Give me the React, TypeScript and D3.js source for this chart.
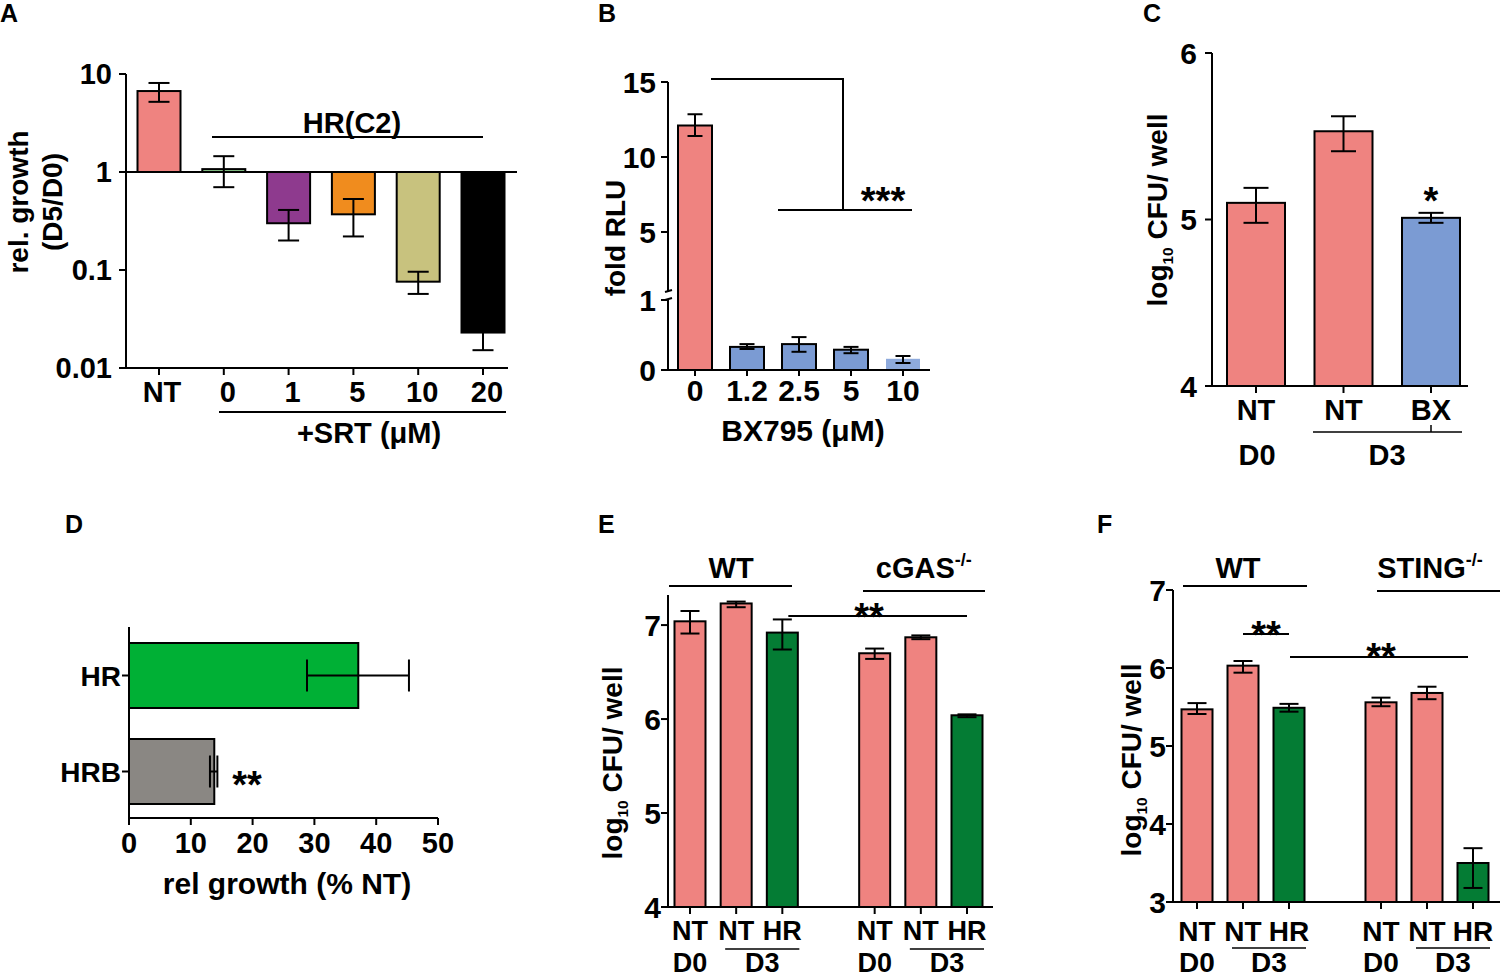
import React, { useEffect, useRef } from "react";
import * as d3 from "d3";

// ---- data ----
// A: rel. growth (D5/D0), log scale, bars drawn from 1
const aCats = ["NT", "0", "1", "5", "10", "20"];
const aVals = [6.7, 1.07, 0.3, 0.37, 0.076, 0.023];
const aHi = [8.1, 1.45, 0.41, 0.53, 0.096, 0.034];
const aLo = [5.2, 0.7, 0.2, 0.22, 0.057, 0.0152];
const aColors = ["#ef8380", "#8fd08f", "#8e3a8e", "#f08c1e", "#c8c27e", "#000000"];
const aTicks = [10, 1, 0.1, 0.01];
const aTickLabels = ["10", "1", "0.1", "0.01"];

// B: fold RLU vs BX795 dose
const bCats = ["0", "1.2", "2.5", "5", "10"];
const bVals = [12.1, 0.33, 0.37, 0.29, 0.16];
const bHi = [12.85, 0.37, 0.47, 0.33, 0.2];
const bLo = [11.4, 0.3, 0.26, 0.24, 0.1];
const bColors = ["#ef8380", "#7b9bd3", "#7b9bd3", "#7b9bd3", "#8eaadc"];
const bUpperTicks = [15, 10, 5];
const bLowerTicks = [1, 0];

// C: log10 CFU/well
const cCats = ["NT", "NT ", "BX"];
const cVals = [5.1, 5.53, 5.01];
const cHi = [5.19, 5.62, 5.04];
const cLo = [4.98, 5.41, 4.98];
const cColors = ["#ef8380", "#ef8380", "#7b9bd3"];
const cTicks = [4, 5, 6];

// D: rel growth (% NT)
const dCats = ["HR", "HRB"];
const dVals = [37.1, 13.8];
const dHi = [45.3, 14.3];
const dLo = [28.8, 13.1];
const dColors = ["#00b035", "#8a8783"];
const dTicks = [0, 10, 20, 30, 40, 50];

// E / F: WT vs knockout, log10 CFU/well
const efSlots = ["wt-d0", "wt-nt", "wt-hr", "gap", "ko-d0", "ko-nt", "ko-hr"];
const efBars = ["wt-d0", "wt-nt", "wt-hr", "ko-d0", "ko-nt", "ko-hr"];
const efLabels = ["NT", "NT", "HR", "NT", "NT", "HR"];
const efColors = ["#ef8380", "#ef8380", "#047c34", "#ef8380", "#ef8380", "#047c34"];

const eVals = [7.04, 7.23, 6.92, 6.7, 6.87, 6.04];
const eHi = [7.15, 7.25, 7.06, 6.75, 6.89, 6.05];
const eLo = [6.91, 7.19, 6.74, 6.64, 6.85, 6.02];
const eTicks = [4, 5, 6, 7];

const fVals = [5.47, 6.03, 5.49, 5.56, 5.68, 3.5];
const fHi = [5.55, 6.09, 5.54, 5.62, 5.76, 3.69];
const fLo = [5.41, 5.94, 5.44, 5.51, 5.6, 3.18];
const fTicks = [3, 4, 5, 6, 7];

const FONT = "'Liberation Sans', Arial, Helvetica, sans-serif";
const SW = 2;
const STAR = 38;

const App = () => {
  const ref = useRef<SVGSVGElement>(null);

  useEffect(() => {
    const svg = d3.select(ref.current);
    svg.selectAll("*").remove();

    const line = (g: any, x1: number, y1: number, x2: number, y2: number, w = SW) =>
      g.append("line")
        .attr("x1", x1).attr("y1", y1).attr("x2", x2).attr("y2", y2)
        .attr("stroke", "#000").attr("stroke-width", w);

    // text centred on (x, y) by cap height
    const text = (g: any, x: number, y: number, s: string, size: number, anchor = "middle", rot = 0) => {
      const t = g.append("text")
        .attr("font-family", FONT).attr("font-weight", "bold")
        .attr("font-size", size).attr("text-anchor", anchor)
        .attr("fill", "#000");
      if (rot) {
        t.attr("transform", `translate(${x},${y}) rotate(${rot})`)
          .attr("x", 0).attr("y", size * 0.36);
      } else {
        t.attr("x", x).attr("y", y + size * 0.36);
      }
      t.text(s);
      return t;
    };

    // asterisks placed by their baseline
    const stars = (g: any, x: number, baseline: number, s: string) =>
      g.append("text").attr("font-family", FONT).attr("font-weight", "bold")
        .attr("font-size", STAR).attr("text-anchor", "middle")
        .attr("x", x).attr("y", baseline).text(s);

    const vErr = (g: any, x: number, y1: number, y2: number, cap: number) => {
      line(g, x, y1, x, y2);
      line(g, x - cap / 2, y1, x + cap / 2, y1);
      line(g, x - cap / 2, y2, x + cap / 2, y2);
    };

    const logLabel = (g: any, x: number, y: number, size: number) => {
      const t = g.append("text")
        .attr("font-family", FONT).attr("font-weight", "bold")
        .attr("font-size", size).attr("text-anchor", "middle")
        .attr("transform", `translate(${x},${y}) rotate(-90)`)
        .attr("y", size * 0.36);
      t.append("tspan").text("log");
      t.append("tspan").attr("font-size", size * 0.55).attr("dy", size * 0.2).text("10");
      t.append("tspan").attr("dy", -size * 0.2).text(" CFU/ well");
    };

    const panelLetter = (x: number, y: number, s: string) => text(svg, x, y, s, 25, "start");

    // ================= A =================
    {
      const g = svg.append("g");
      const y = d3.scaleLog().domain([0.01, 10]).range([368, 74]);
      const x = d3.scalePoint().domain(aCats).range([159, 483]);
      const bw = 43;
      aCats.forEach((c, i) => {
        const y0 = y(1), y1 = y(aVals[i]);
        g.append("rect")
          .attr("x", x(c)! - bw / 2).attr("width", bw)
          .attr("y", Math.min(y0, y1)).attr("height", Math.abs(y1 - y0))
          .attr("fill", aColors[i]).attr("stroke", "#000").attr("stroke-width", SW);
      });
      aCats.forEach((c, i) => vErr(g, x(c)!, y(aHi[i]), y(aLo[i]), 21));
      line(g, 126, y(1), 517, y(1));
      line(g, 126, 74, 126, 369);
      line(g, 125, 368, 508, 368);
      aTicks.forEach((t, i) => {
        line(g, 119, y(t), 126, y(t));
        text(g, 112, y(t), aTickLabels[i], 29, "end");
      });
      aCats.forEach((c) => {
        line(g, x(c)!, 368, x(c)!, 375);
        text(g, x(c)! + (c === "NT" ? 3 : 4), 392, c, 29);
      });
      line(g, 212, 137, 483, 137);
      text(g, 352, 123, "HR(C2)", 29);
      line(g, 219, 412, 506, 412);
      text(g, 369, 433, "+SRT (\u03bcM)", 29);
      text(g, 18, 202, "rel. growth", 28, "middle", -90);
      text(g, 52, 202, "(D5/D0)", 28, "middle", -90);
      panelLetter(0, 13, "A");
    }

    // ================= B =================
    {
      const g = svg.append("g");
      const yLow = d3.scaleLinear().domain([0, 1]).range([370, 300]);
      const yUp = d3.scaleLinear().domain([1, 15]).range([292, 82]);
      const y = (v: number) => (v <= 1 ? yLow(v) : yUp(v));
      const x = d3.scalePoint().domain(bCats).range([695, 903]);
      const bw = 34;
      bCats.forEach((c, i) => {
        g.append("rect")
          .attr("x", x(c)! - bw / 2).attr("width", bw)
          .attr("y", y(bVals[i])).attr("height", 370 - y(bVals[i]))
          .attr("fill", bColors[i])
          .attr("stroke", i === bCats.length - 1 ? "none" : "#000")
          .attr("stroke-width", SW);
      });
      bCats.forEach((c, i) => vErr(g, x(c)!, y(bHi[i]), y(bLo[i]), 15));
      line(g, 668, 82, 668, 292);
      line(g, 668, 299, 668, 371);
      line(g, 665, 292, 672, 290);
      line(g, 665, 300, 672, 298);
      line(g, 667, 370, 930, 370);
      bUpperTicks.forEach((t) => {
        line(g, 661, yUp(t), 668, yUp(t));
        text(g, 656, yUp(t), String(t), 30, "end");
      });
      bLowerTicks.forEach((t) => {
        line(g, 661, yLow(t), 668, yLow(t));
        text(g, 656, yLow(t), String(t), 30, "end");
      });
      bCats.forEach((c) => {
        line(g, x(c)!, 370, x(c)!, 376);
        text(g, x(c)!, 390, c, 30);
      });
      text(g, 803, 430, "BX795 (\u03bcM)", 30);
      text(g, 615, 238, "fold RLU", 28, "middle", -90);
      // significance bracket
      line(g, 711, 79, 844, 79);
      line(g, 843, 79, 843, 210);
      line(g, 778, 210, 912, 210);
      stars(g, 883, 214, "***");
      panelLetter(598, 13, "B");
    }

    // ================= C =================
    {
      const g = svg.append("g");
      const y = d3.scaleLinear().domain([4, 6]).range([386, 53]);
      const x = d3.scalePoint().domain(cCats).range([1256, 1431]);
      const bw = 58;
      cCats.forEach((c, i) => {
        g.append("rect")
          .attr("x", x(c)! - bw / 2).attr("width", bw)
          .attr("y", y(cVals[i])).attr("height", 386 - y(cVals[i]))
          .attr("fill", cColors[i]).attr("stroke", "#000").attr("stroke-width", SW);
      });
      cCats.forEach((c, i) => vErr(g, x(c)!, y(cHi[i]), y(cLo[i]), 25));
      line(g, 1212, 53, 1212, 387);
      line(g, 1211, 386, 1468, 386);
      cTicks.forEach((t) => {
        line(g, 1205, y(t), 1212, y(t));
        text(g, 1197, y(t), String(t), 30, "end");
      });
      cCats.forEach((c) => {
        line(g, x(c)!, 386, x(c)!, 393);
        text(g, x(c)!, 410, c.trim(), 29);
      });
      line(g, 1313, 432, 1462, 432, 1.5);
      line(g, 1431, 425, 1431, 432, 1.5);
      text(g, 1257, 455, "D0", 29);
      text(g, 1387, 455, "D3", 29);
      stars(g, x("BX")!, 214, "*");
      logLabel(g, 1157, 210, 28);
      panelLetter(1143, 13, "C");
    }

    // ================= D =================
    {
      const g = svg.append("g");
      const x = d3.scaleLinear().domain([0, 50]).range([129, 438]);
      const y = d3.scalePoint().domain(dCats).range([675.5, 771.5]);
      const bh = 65;
      dCats.forEach((c, i) => {
        g.append("rect")
          .attr("x", x(0)).attr("width", x(dVals[i]) - x(0))
          .attr("y", y(c)! - bh / 2).attr("height", bh)
          .attr("fill", dColors[i]).attr("stroke", "#000").attr("stroke-width", SW);
      });
      dCats.forEach((c, i) => {
        const cy = y(c)!;
        line(g, x(dLo[i]), cy, x(dHi[i]), cy);
        line(g, x(dLo[i]), cy - 16, x(dLo[i]), cy + 16);
        line(g, x(dHi[i]), cy - 16, x(dHi[i]), cy + 16);
      });
      line(g, 129, 627, 129, 819);
      line(g, 128, 818, 438, 818);
      dTicks.forEach((t) => {
        line(g, x(t), 818, x(t), 825);
        text(g, x(t), 843, String(t), 29);
      });
      dCats.forEach((c) => {
        line(g, 122, y(c)!, 129, y(c)!);
        text(g, 121, y(c)!, c, 28, "end");
      });
      text(g, 287, 883, "rel growth (% NT)", 30);
      stars(g, 247, 798, "**");
      panelLetter(65, 524, "D");
    }

    // ================= E & F =================
    const groupPanel = (
      opt: {
        x0: number; x1: number; axisX: number; axisEnd: number;
        yDomain: number[]; yRange: number[]; ticks: number[];
        vals: number[]; hi: number[]; lo: number[];
        ko: string; koLine: number[]; wtLine: number[];
        yLabelX: number; yLabelY: number; letterX: number; letter: string;
        labelDy: number; lineDy: number; rowY: number; labelSize: number; tickSize: number;
      }
    ) => {
      const g = svg.append("g");
      const y = d3.scaleLinear().domain(opt.yDomain).range(opt.yRange);
      const x = d3.scalePoint().domain(efSlots).range([opt.x0, opt.x1]);
      const base = opt.yRange[0];
      const bw = 31;
      efBars.forEach((c, i) => {
        g.append("rect")
          .attr("x", x(c)! - bw / 2).attr("width", bw)
          .attr("y", y(opt.vals[i])).attr("height", base - y(opt.vals[i]))
          .attr("fill", efColors[i]).attr("stroke", "#000").attr("stroke-width", SW);
      });
      efBars.forEach((c, i) => vErr(g, x(c)!, y(opt.hi[i]), y(opt.lo[i]), 19));
      line(g, opt.axisX, opt.yRange[1], opt.axisX, base + 1);
      line(g, opt.axisX - 1, base, opt.axisEnd, base);
      opt.ticks.forEach((t) => {
        line(g, opt.axisX - 7, y(t), opt.axisX, y(t));
        text(g, opt.axisX - 7, y(t), String(t), opt.tickSize, "end");
      });
      efBars.forEach((c, i) => {
        line(g, x(c)!, base, x(c)!, base + 7);
        text(g, x(c)!, base + opt.labelDy, efLabels[i], opt.labelSize);
      });
      // D0 / D3 rows
      [["wt-d0", "wt-nt", "wt-hr"], ["ko-d0", "ko-nt", "ko-hr"]].forEach(([d0, nt, hr]) => {
        line(g, x(nt)! - 11, base + opt.lineDy, x(hr)! + 17, base + opt.lineDy, 1.5);
        text(g, x(d0)!, opt.rowY, "D0", opt.labelSize);
        text(g, (x(nt)! + x(hr)!) / 2 + 3, opt.rowY, "D3", opt.labelSize);
      });
      // genotype headers
      line(g, opt.wtLine[0], 586, opt.wtLine[1], 586);
      text(g, (x("wt-d0")! + x("wt-hr")!) / 2 - 5, 568, "WT", 29);
      line(g, opt.koLine[0], 591, opt.koLine[1], 591);
      const kt = g.append("text").attr("font-family", FONT).attr("font-weight", "bold")
        .attr("font-size", 29).attr("text-anchor", "middle")
        .attr("x", (x("ko-d0")! + x("ko-hr")!) / 2 + 3).attr("y", 578);
      kt.append("tspan").text(opt.ko);
      kt.append("tspan").attr("font-size", 18).attr("dy", -12).text("-/-");
      logLabel(g, opt.yLabelX, opt.yLabelY, 28);
      panelLetter(opt.letterX, 524, opt.letter);
      return { g, x, y };
    };

    {
      const { g, x } = groupPanel({
        x0: 690, x1: 967, axisX: 668, axisEnd: 993,
        yDomain: [4, 7.32], yRange: [907, 595], ticks: eTicks,
        vals: eVals, hi: eHi, lo: eLo,
        ko: "cGAS", wtLine: [669, 792], koLine: [863, 985],
        yLabelX: 612, yLabelY: 763, letterX: 598, letter: "E",
        labelDy: 23, lineDy: 42, rowY: 962, labelSize: 27, tickSize: 30,
      });
      line(g, x("wt-hr")! + 6, 616, x("ko-hr")!, 616);
      stars(g, 869, 630, "**");
    }

    {
      const { g, x } = groupPanel({
        x0: 1197, x1: 1473, axisX: 1173, axisEnd: 1500,
        yDomain: [3, 7], yRange: [902, 590], ticks: fTicks,
        vals: fVals, hi: fHi, lo: fLo,
        ko: "STING", wtLine: [1183, 1307], koLine: [1377, 1500],
        yLabelX: 1131, yLabelY: 760, letterX: 1097, letter: "F",
        labelDy: 29, lineDy: 46, rowY: 962, labelSize: 28, tickSize: 30,
      });
      line(g, x("wt-nt")!, 634, x("wt-hr")!, 634);
      stars(g, (x("wt-nt")! + x("wt-hr")!) / 2, 648, "**");
      line(g, x("wt-hr")! + 1, 657, x("ko-hr")! - 5, 657);
      stars(g, 1381, 670, "**");
    }
  }, []);

  return (
    <svg
      ref={ref}
      width={1500}
      height={977}
      style={{ position: "absolute", left: 0, top: 0, background: "#fff" }}
    />
  );
};

export default App;
